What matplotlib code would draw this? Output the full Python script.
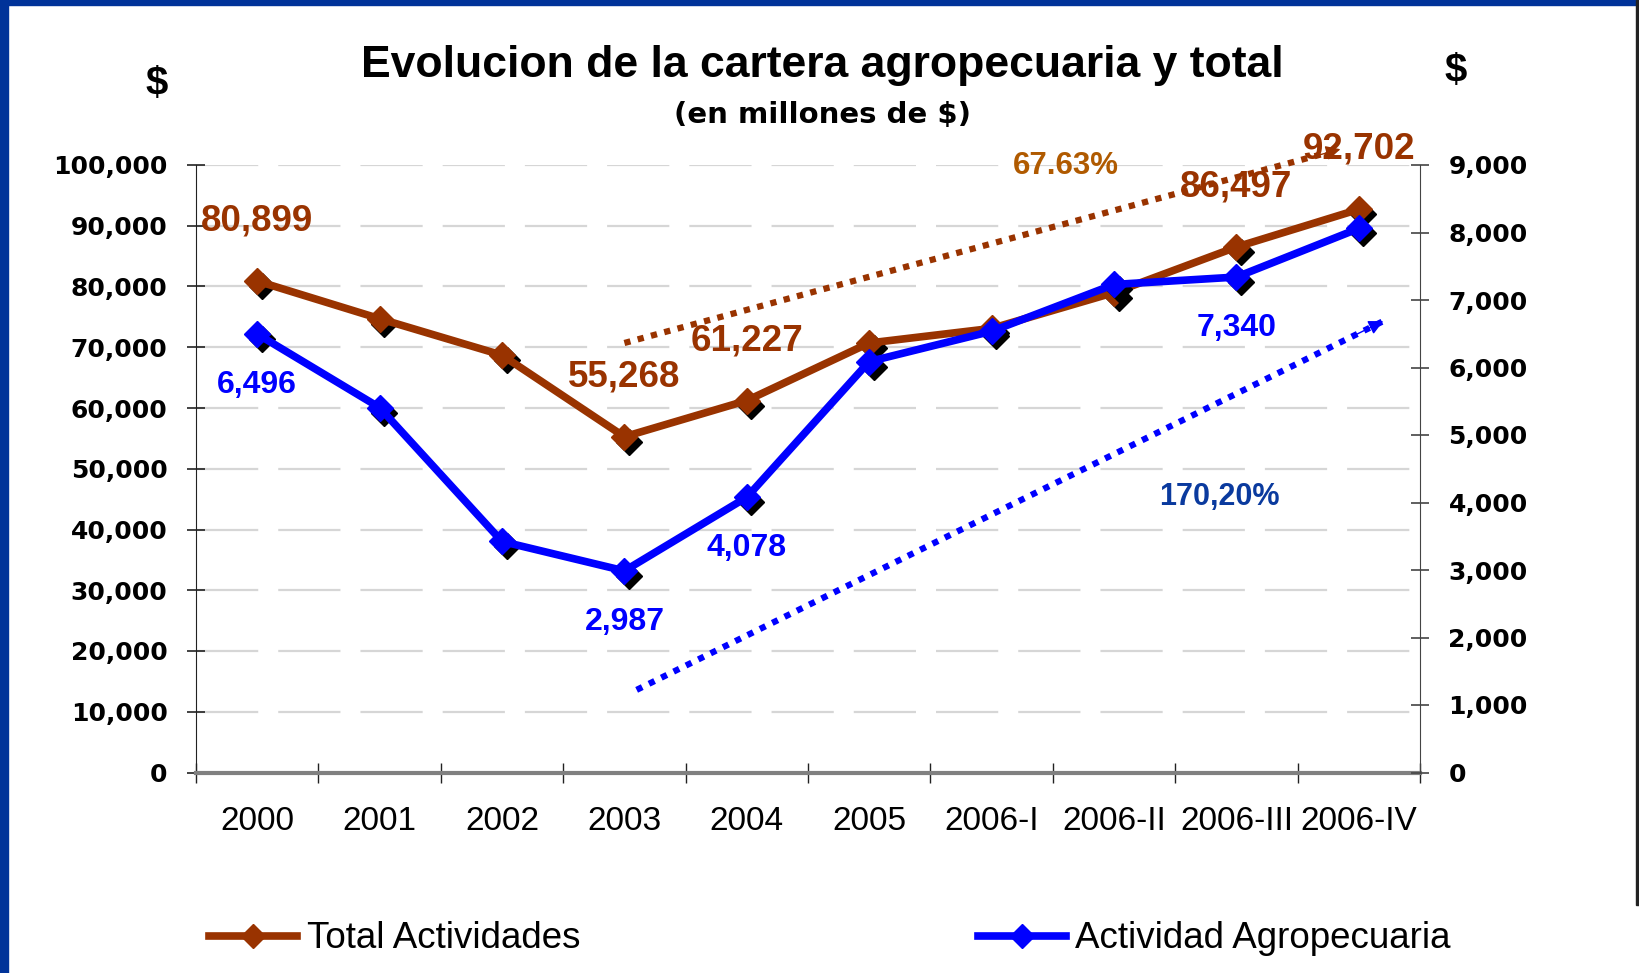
import numpy as np
import matplotlib
matplotlib.use("Agg")
import matplotlib.pyplot as plt
import matplotlib.transforms as mtransforms
from matplotlib.lines import Line2D
from matplotlib.patches import Rectangle

# data (millones de $)
periodos = ["2000", "2001", "2002", "2003", "2004", "2005",
            "2006-I", "2006-II", "2006-III", "2006-IV"]
total = [80899, 74700, 68700, 55268, 61227, 70700, 73100, 79000, 86497, 92702]
agro = [6496, 5406, 3423, 2987, 4078, 6088, 6537, 7230, 7340, 8060]
etiq_total = {0: "80,899", 3: "55,268", 4: "61,227", 8: "86,497", 9: "92,702"}
etiq_agro = {0: "6,496", 3: "2,987", 4: "4,078", 8: "7,340"}
# trend arrows: (category pos, value on left axis) start/end
flecha_total = [(3.0, 70700), (8.85, 102600)]
flecha_agro = [(3.1, 13600), (9.2, 74300)]

brown = "#993300"
blue = "#0000FF"
sans = "Liberation Sans"

fig = plt.figure(figsize=(16.39, 9.73), dpi=100)
ax = fig.add_axes([196 / 1639, 1 - 772.5 / 973, 1224 / 1639, 607.5 / 973])
ax2 = ax.twinx()

x = np.arange(len(periodos))

ax.set_xlim(-0.5, len(periodos) - 0.5)
ax.set_ylim(0, 100000)
ax2.set_ylim(0, 9000)

# gridlines
for v in range(10000, 100001, 10000):
    ax.axhline(v, color="#D6D6D6", lw=1.6, dashes=(28, 9), zorder=0)

shadow = mtransforms.offset_copy(ax.transData, fig, x=4.5, y=-5, units="dots")
shadow2 = mtransforms.offset_copy(ax2.transData, fig, x=4.5, y=-5, units="dots")

ax.plot(x, total, ls="none", marker="D", ms=13, color="black",
        transform=shadow, zorder=2)
ax.plot(x, total, color=brown, lw=5.5, marker="D", ms=13, zorder=3)
ax2.plot(x, agro, ls="none", marker="D", ms=13, color="black",
         transform=shadow2, zorder=2)
ax2.plot(x, agro, color=blue, lw=5.5, marker="D", ms=13, zorder=3)


# trend arrows: dotted shaft + small solid head
def flecha(p, color):
    (x0, y0), (x1, y1) = p
    ax.plot([x0, x1], [y0, y1], color=color, lw=4.5, ls=(0, (1, 1.2)),
            dash_capstyle="butt", clip_on=False, zorder=1)
    xm, ym = x0 + 0.96 * (x1 - x0), y0 + 0.96 * (y1 - y0)
    ax.annotate("", xy=(x1, y1), xytext=(xm, ym),
                arrowprops=dict(arrowstyle="-|>", color=color, lw=1,
                                mutation_scale=22, shrinkA=0, shrinkB=0),
                annotation_clip=False, zorder=1)


flecha(flecha_total, brown)
flecha(flecha_agro, blue)

# data labels
for i, t in etiq_total.items():
    ax.annotate(t, xy=(x[i], total[i]), xytext=(0, 60), textcoords="offset pixels",
                ha="center", va="center", fontsize=26.5, fontweight="bold",
                family=sans, color=brown, annotation_clip=False, zorder=5)
for i, t in etiq_agro.items():
    ax2.annotate(t, xy=(x[i], agro[i]), xytext=(0, -51), textcoords="offset pixels",
                 ha="center", va="center", fontsize=23, fontweight="bold",
                 family=sans, color=blue, annotation_clip=False, zorder=5)

ax.text(0.711, 0.999, "67.63%", transform=ax.transAxes, ha="center", va="center",
        fontsize=22.5, fontweight="bold", family=sans, color="#B05A00")
ax.text(0.836, 0.453, "170,20%", transform=ax.transAxes, ha="center", va="center",
        fontsize=22, fontweight="bold", family=sans, color="#0A3A9E")

# axes styling
for a in (ax, ax2):
    a.spines["top"].set_visible(False)
    a.set_facecolor("none")
ax.spines["left"].set_color("#222222")
ax.spines["right"].set_visible(False)
ax2.spines["left"].set_visible(False)
ax2.spines["right"].set_color("#444444")
ax.spines["bottom"].set_color("#808080")
ax.spines["bottom"].set_linewidth(3)
ax2.spines["bottom"].set_visible(False)

ax.set_yticks(range(0, 100001, 10000))
ax.set_yticklabels([f"{v:,}" for v in range(0, 100001, 10000)])
ax2.set_yticks(range(0, 9001, 1000))
ax2.set_yticklabels([f"{v:,}" for v in range(0, 9001, 1000)])
ax.tick_params(axis="y", direction="inout", length=13, width=1.2, pad=14,
               labelsize=18, colors="#222222", labelcolor="black")
ax2.tick_params(axis="y", direction="inout", length=13, width=1.2, pad=14,
                labelsize=18, colors="#444444", labelcolor="black")
for lab in ax.get_yticklabels() + ax2.get_yticklabels():
    lab.set_fontfamily("DejaVu Sans")
    lab.set_fontweight("bold")

ax.set_xticks(np.arange(-0.5, len(periodos), 1.0))
ax.set_xticklabels([])
ax.set_xticks(x, minor=True)
ax.set_xticklabels(periodos, minor=True, fontsize=24, family=sans)
ax.tick_params(axis="x", which="major", direction="inout", length=14,
               width=1, colors="#222222")
ax.tick_params(axis="x", which="minor", length=0, pad=24)

# titles
fig.text(0.502, 0.933, "Evolucion de la cartera agropecuaria y total",
         ha="center", va="center", fontsize=32, fontweight="bold", family=sans)
fig.text(0.502, 0.882, "(en millones de $)", ha="center", va="center",
         fontsize=21, fontweight="bold", family="DejaVu Sans")
fig.text(157 / 1639, 1 - 84 / 973, "$", ha="center", va="center",
         fontsize=29, fontweight="bold", family=sans)
fig.text(1456 / 1639, 1 - 71 / 973, "$", ha="center", va="center",
         fontsize=29, fontweight="bold", family=sans)

# legend
handles = [Line2D([], [], color=brown, lw=5.5, marker="D", ms=12),
           Line2D([], [], color=blue, lw=5.5, marker="D", ms=12)]
leg = fig.legend(handles, ["Total Actividades", "Actividad Agropecuaria"],
                 loc="center left", bbox_to_anchor=(209 / 1639, 1 - 939 / 973),
                 ncol=2, frameon=False, borderpad=0, borderaxespad=0,
                 handlelength=2.4, handletextpad=0.25, columnspacing=10.8,
                 prop={"family": sans, "size": 26.5})

# frame
fig.patches.append(Rectangle((0, 0), 8 / 1639, 1, transform=fig.transFigure,
                             color="#003399", zorder=10))
fig.patches.append(Rectangle((0, 1 - 5 / 973), 1, 5 / 973, transform=fig.transFigure,
                             color="#003399", zorder=10))
fig.patches.append(Rectangle((1 - 3 / 1639, 0.07), 3 / 1639, 0.93,
                             transform=fig.transFigure, color="#222222", zorder=10))

fig.savefig("out.png", dpi=100)
